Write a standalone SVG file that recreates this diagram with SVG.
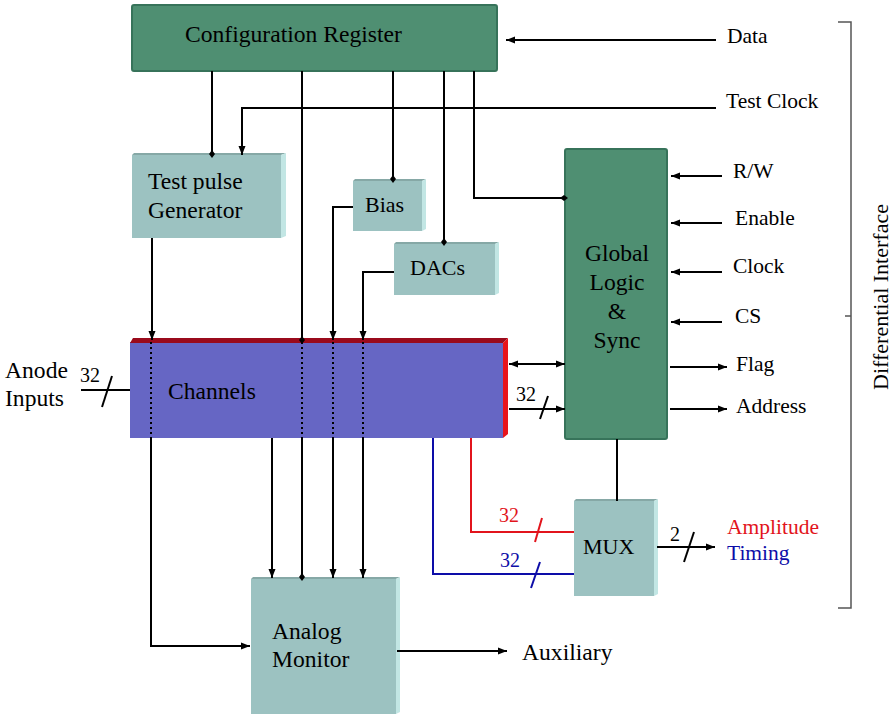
<svg xmlns="http://www.w3.org/2000/svg" width="893" height="720" viewBox="0 0 893 720" font-family="'Liberation Serif', 'DejaVu Serif', serif">
<defs>
<style>
text{font-family:'Liberation Serif','DejaVu Serif',serif;font-size:21.5px;fill:#000}
text.L{font-size:23.6px}
text.M{font-size:22px}
text.s{font-size:20px}
text.r{fill:#e2141c}
text.b{fill:#0d0da8}
.green{fill:#4f8f72;stroke:#37735a;stroke-width:2}
.cyan{fill:#9cc2c1}
.bevelR{fill:#c2e6e4}
.bevelT{fill:#86a8a6}
.ln{fill:none;stroke:#000;stroke-width:2}
.dot{fill:none;stroke:#000;stroke-width:2;stroke-dasharray:2 3}
.red{fill:none;stroke:#e2141c;stroke-width:2}
.blue{fill:none;stroke:#0d0da8;stroke-width:2}
</style>
<marker id="arr" markerUnits="userSpaceOnUse" markerWidth="10" markerHeight="10" viewBox="0 0 10 10" refX="9" refY="5" orient="auto">
<path d="M0,1.5 L9,5 L0,8.5 Z" fill="#000"/>
</marker>
<marker id="arrS" markerUnits="userSpaceOnUse" markerWidth="10" markerHeight="10" viewBox="0 0 10 10" refX="1" refY="5" orient="auto">
<path d="M10,1.5 L1,5 L10,8.5 Z" fill="#000"/>
</marker>
<marker id="dia" markerUnits="userSpaceOnUse" markerWidth="8" markerHeight="8" viewBox="0 0 8 8" refX="4" refY="4" orient="auto">
<path d="M0,4 L4,1 L8,4 L4,7 Z" fill="#000"/>
</marker>
</defs>

<g id="config-register">
<rect class="green" x="132" y="5" width="365" height="66" rx="2"/>
<text class="L" x="185" y="42">Configuration Register</text>
</g>

<g id="test-pulse-generator">
<rect class="cyan" x="132" y="155" width="149" height="83"/>
<polygon class="bevelT" points="132,155 134,153 286,153 281,155"/>
<polygon class="bevelR" points="281,155 286,153 286,236 281,238"/>
<text class="L" x="148" y="189">Test pulse</text>
<text class="L" x="148" y="218">Generator</text>
</g>

<g id="bias">
<rect class="cyan" x="353" y="181" width="69" height="50"/>
<polygon class="bevelT" points="353,181 355,179 426,179 422,181"/>
<polygon class="bevelR" points="422,181 426,179 426,229 422,231"/>
<text class="M" x="365" y="212">Bias</text>
</g>

<g id="dacs">
<rect class="cyan" x="394" y="244" width="101" height="51"/>
<polygon class="bevelT" points="394,244 396,242 499,242 495,244"/>
<polygon class="bevelR" points="495,244 499,242 499,293 495,295"/>
<text class="M" x="410" y="275">DACs</text>
</g>

<g id="channels">
<rect x="130" y="342" width="373" height="96" fill="#6666c4"/>
<polygon points="130,343 133,338 508,338 503,343" fill="#9a0a1c"/>
<polygon points="503,343 508,338 508,434 503,438" fill="#e8141c"/>
<text class="L" x="168" y="399">Channels</text>
</g>

<g id="global-logic">
<rect class="green" x="565" y="149" width="102" height="290" rx="2"/>
<text class="L" x="617" y="261" text-anchor="middle">Global</text>
<text class="L" x="617" y="290" text-anchor="middle">Logic</text>
<text class="L" x="617" y="319" text-anchor="middle">&amp;</text>
<text class="L" x="617" y="348" text-anchor="middle">Sync</text>
</g>

<g id="mux">
<rect class="cyan" x="574" y="501" width="80" height="95"/>
<polygon class="bevelT" points="574,501 576,499 658,499 654,501"/>
<polygon class="bevelR" points="654,501 658,499 658,594 654,596"/>
<text class="M" x="583" y="554">MUX</text>
</g>

<g id="analog-monitor">
<rect class="cyan" x="251" y="579" width="145" height="135"/>
<polygon class="bevelT" points="251,579 253,577 400,577 396,579"/>
<polygon class="bevelR" points="396,579 400,577 400,712 396,714"/>
<text class="L" x="272" y="639">Analog</text>
<text class="L" x="272" y="667">Monitor</text>
</g>

<g id="connectors">
<path class="ln" d="M716,40 H506" marker-end="url(#arr)"/>
<path class="ln" d="M716,108 H242 V155" marker-end="url(#arr)"/>
<path class="ln" d="M212,71 V154" marker-end="url(#dia)"/>
<path class="ln" d="M302,71 V340" marker-end="url(#dia)"/>
<path class="dot" d="M302,342 V438"/>
<path class="ln" d="M302,438 V577" marker-end="url(#dia)"/>
<path class="ln" d="M393,71 V179" marker-end="url(#dia)"/>
<path class="ln" d="M444,71 V242" marker-end="url(#dia)"/>
<path class="ln" d="M474,71 V198 H564" marker-end="url(#dia)"/>
<path class="ln" d="M152,238 V340" marker-end="url(#arr)"/>
<path class="dot" d="M151,342 V438"/>
<path class="ln" d="M151,438 V646 H250" marker-end="url(#arr)"/>
<path class="ln" d="M353,207 H333 V340" marker-end="url(#arr)"/>
<path class="dot" d="M333,342 V438"/>
<path class="ln" d="M333,438 V578" marker-end="url(#arr)"/>
<path class="ln" d="M394,272 H363 V340" marker-end="url(#arr)"/>
<path class="dot" d="M363,342 V438"/>
<path class="ln" d="M363,438 V578" marker-end="url(#arr)"/>
<path class="ln" d="M272,438 V578" marker-end="url(#arr)"/>
<path class="ln" d="M81,390 H130"/>
<path class="ln" d="M102,407 L112,376"/>
<path class="ln" d="M509,364 H565" marker-start="url(#arrS)" marker-end="url(#arr)"/>
<path class="ln" d="M509,409 H565" marker-end="url(#arr)"/>
<path class="ln" d="M540,419 L548,396"/>
<path class="ln" d="M722,176 H671" marker-end="url(#arr)"/>
<path class="ln" d="M722,223 H671" marker-end="url(#arr)"/>
<path class="ln" d="M722,272 H671" marker-end="url(#arr)"/>
<path class="ln" d="M722,322 H671" marker-end="url(#arr)"/>
<path class="ln" d="M670,367 H727" marker-end="url(#arr)"/>
<path class="ln" d="M670,409 H727" marker-end="url(#arr)"/>
<path class="ln" d="M617,439 V501"/>
<path class="red" d="M471,438 V532 H574"/>
<path class="red" d="M535,542 L542,518"/>
<path class="blue" d="M433,438 V574 H574"/>
<path class="blue" d="M531,588 L540,562"/>
<path class="ln" d="M657,547 H715" marker-end="url(#arr)"/>
<path class="ln" d="M684,562 L694,532"/>
<path class="ln" d="M397,651 H507" marker-end="url(#arr)"/>
<path d="M838,22 H851 V608 H838 M851,316 H845" fill="none" stroke="#555" stroke-width="1.5"/>
</g>

<g id="labels">
<text x="727" y="43">Data</text>
<text x="726" y="108">Test Clock</text>
<text x="733" y="178">R/W</text>
<text x="735" y="225">Enable</text>
<text x="733" y="273">Clock</text>
<text x="735" y="323">CS</text>
<text x="736" y="371">Flag</text>
<text x="736" y="413">Address</text>
<text class="L" x="5" y="378">Anode</text>
<text class="L" x="5" y="406">Inputs</text>
<text class="s" x="80" y="382">32</text>
<text class="s" x="516" y="401">32</text>
<text class="s r" x="499" y="522">32</text>
<text class="s b" x="500" y="567">32</text>
<text class="s" x="670" y="541">2</text>
<text class="r" x="727" y="534">Amplitude</text>
<text class="b" x="727" y="560">Timing</text>
<text class="L" x="522" y="660">Auxiliary</text>
<text class="M" x="0" y="0" text-anchor="middle" transform="translate(888,297) rotate(-90)">Differential Interface</text>
</g>
</svg>
